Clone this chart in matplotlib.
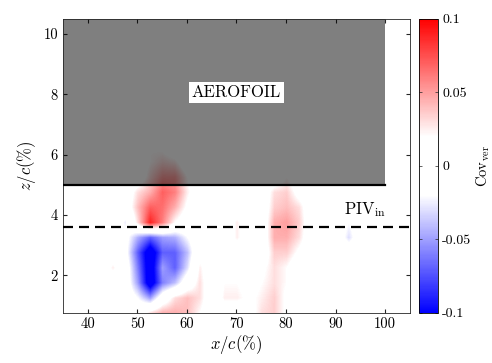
import numpy as np
import matplotlib
matplotlib.use('Agg')
import matplotlib.pyplot as plt
from matplotlib.colors import LinearSegmentedColormap
from matplotlib.patches import Rectangle

plt.rcParams['font.family'] = ['cmr10', 'DejaVu Serif']
plt.rcParams['mathtext.fontset'] = 'cm'
plt.rcParams['axes.unicode_minus'] = False

# grid nodes of the covariance field
x_pos = [40, 42.5, 45, 47.5, 50, 52.5, 55, 57.5, 60, 62.5, 65, 67.5,
         70, 72.5, 75, 77.5, 80, 82.5, 85, 87.5, 90, 92.5, 95, 97.5]
z_pos = [0.75, 1.25, 1.75, 2.25, 2.75, 3.25, 3.75, 4.25, 4.75, 5.25,
         5.75, 6.25, 6.75, 7.25, 7.75]

# rows go from the bottom (z = 0.75) upwards
cov_ver = [
    [0, 0, 0, 0, 0, .03, .045, .045, .04, .02, 0, 0, 0, .01, .03, .035, .015, 0, 0, 0, 0, 0, 0, 0],
    [0, 0, 0, 0, -.02, -.05, 0, .03, .04, .03, 0, .025, .025, .015, .025, .035, .015, 0, 0, 0, 0, 0, 0, 0],
    [0, 0, 0, 0, -.05, -.12, -.06, -.04, 0, .03, 0, .02, .02, .01, .02, .03, .02, 0, 0, 0, 0, 0, 0, 0],
    [0, 0, .025, 0, -.06, -.12, -.05, -.07, -.03, .025, 0, 0, 0, 0, .015, .03, .02, 0, 0, 0, 0, 0, 0, 0],
    [0, 0, 0, -.01, -.07, -.12, -.07, -.07, -.04, .01, 0, 0, 0, 0, 0, .035, .035, .015, 0, 0, 0, 0, 0, 0],
    [0, 0, 0, -.01, -.045, -.07, -.05, -.045, -.02, 0, 0, 0, .025, 0, 0, .045, .045, .03, 0, 0, 0, -.03, 0, 0],
    [0, 0, 0, -.025, .03, .09, .06, .02, 0, 0, 0, 0, .025, 0, 0, .045, .05, .035, 0, 0, 0, -.02, 0, 0],
    [0, 0, 0, 0, .04, .07, .065, .045, .015, 0, 0, 0, 0, 0, 0, .035, .04, .03, 0, 0, 0, 0, 0, 0],
    [0, 0, 0, 0, .03, .045, .07, .06, .025, 0, 0, 0, 0, 0, 0, .03, .035, .01, 0, 0, 0, 0, 0, 0],
    [0, 0, 0, 0, 0, .03, .05, .05, .02, 0, 0, 0, 0, 0, 0, 0, .02, 0, 0, 0, 0, 0, 0, 0],
    [0, 0, 0, 0, 0, .02, .03, .025, 0, 0, 0, 0, 0, 0, 0, 0, 0, 0, 0, 0, 0, 0, 0, 0],
    [0, 0, 0, 0, 0, .02, .015, 0, 0, 0, 0, 0, 0, 0, 0, 0, 0, 0, 0, 0, 0, 0, 0, 0],
    [0, 0, 0, 0, 0, .02, 0, 0, 0, 0, 0, 0, 0, 0, 0, 0, 0, 0, 0, 0, 0, 0, 0, 0],
    [0, 0, 0, 0, 0, .015, 0, 0, 0, 0, 0, 0, 0, 0, 0, 0, 0, 0, 0, 0, 0, 0, 0, 0],
    [0] * 24,
]

cbar_ticks = [-0.1, -0.05, 0, 0.05, 0.1]
cbar_labels = ['-0.1', '-0.05', '0', '0.05', '0.1']

aerofoil_z = 5.0
aerofoil_x_end = 100
piv_in_z = 3.6

# blue-white-red with a flat white band around zero
cmap = LinearSegmentedColormap.from_list('bwr_flat', [
    (0.0, (0, 0, 1)),
    (0.4, (1, 1, 1)),
    (0.6, (1, 1, 1)),
    (1.0, (1, 0, 0)),
])

fig = plt.figure(figsize=(4.92, 3.63), dpi=100)
ax = fig.add_axes([0.128, 0.138, 0.705, 0.810])
cax = fig.add_axes([0.852, 0.138, 0.0386, 0.810])

dx = x_pos[1] - x_pos[0]
dz = z_pos[1] - z_pos[0]
im = ax.imshow(np.array(cov_ver), origin='lower', cmap=cmap, vmin=-0.1, vmax=0.1,
               extent=[x_pos[0] - dx / 2, x_pos[-1] + dx / 2,
                       z_pos[0] - dz / 2, z_pos[-1] + dz / 2],
               aspect='auto', interpolation='bilinear', interpolation_stage='data',
               zorder=1)

ax.add_patch(Rectangle((35, aerofoil_z), aerofoil_x_end - 35, 6, facecolor='k',
                       alpha=0.5, edgecolor='none', zorder=2))
ax.plot([35, aerofoil_x_end], [aerofoil_z, aerofoil_z], color='k', lw=1.6, zorder=3)
ax.plot([35, 105], [piv_in_z, piv_in_z], color='k', lw=1.6, dashes=(4.5, 2.7), zorder=3)

ax.text(70, 8.05, 'AEROFOIL', ha='center', va='center', fontsize=12,
        bbox=dict(facecolor='white', edgecolor='none', pad=2), zorder=4)
ax.text(96, 3.85, r'PIV$_{\rm in}$', ha='center', va='bottom', fontsize=12, zorder=4)

ax.set_xlim(35, 105)
ax.set_ylim(0.75, 10.5)
ax.set_xticks([40, 50, 60, 70, 80, 90, 100])
ax.set_yticks([2, 4, 6, 8, 10])
ax.tick_params(direction='in', top=True, right=True, labelsize=10.5, length=3,
               color='#262626')
for s in ax.spines.values():
    s.set_color('#262626')
    s.set_linewidth(0.6)
ax.set_xlabel(r'$x/c(\%)$', fontsize=12, labelpad=1)
ax.set_ylabel(r'$z/c(\%)$', fontsize=12, labelpad=4)

cb = fig.colorbar(im, cax=cax)
cb.set_ticks(cbar_ticks)
cb.set_ticklabels(cbar_labels)
cb.ax.tick_params(labelsize=10, length=2, width=0.5, direction='in', left=True,
                  pad=3, color='#262626')
cb.outline.set_linewidth(0.6)
cb.set_label(r'Cov$_{\rm ver}$', fontsize=10.5, labelpad=2)

fig.savefig('out.png', dpi=100)
